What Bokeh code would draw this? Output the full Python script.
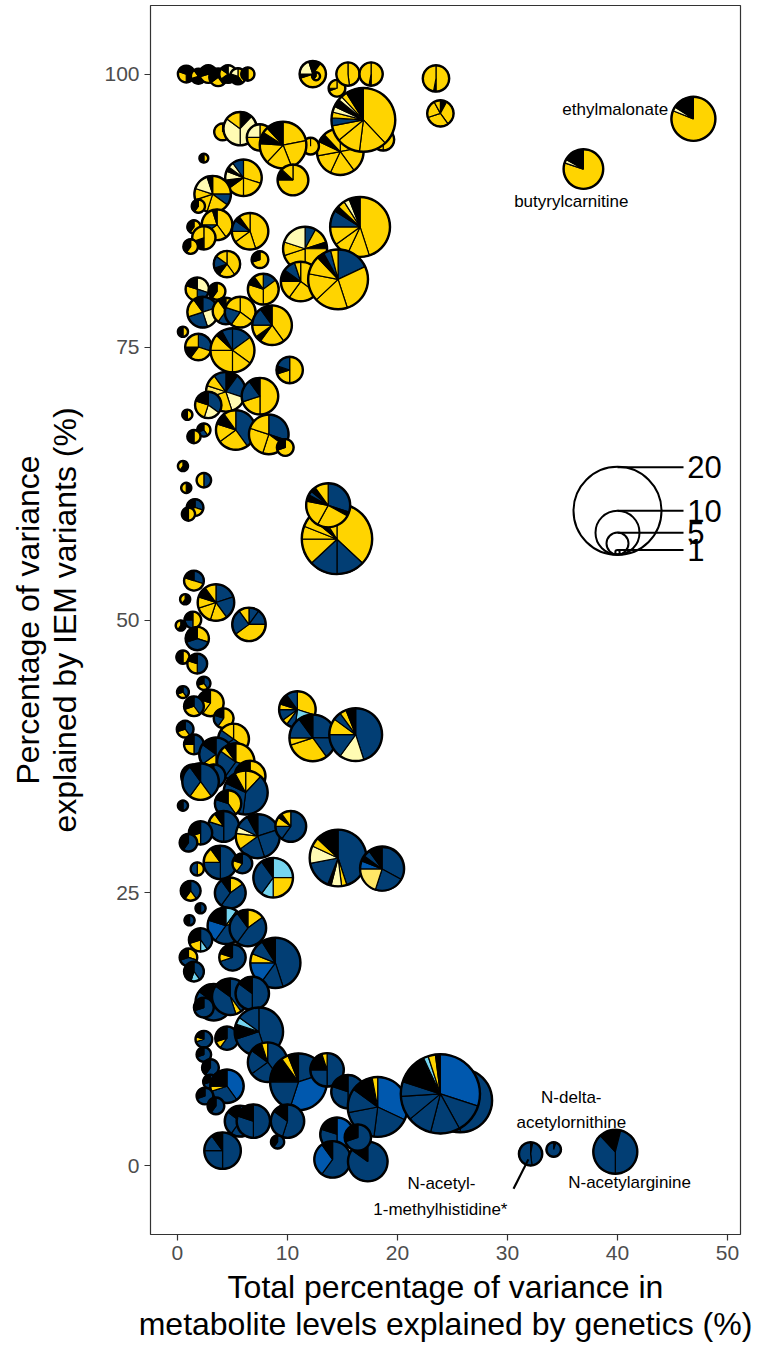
import math
from bokeh.plotting import figure
from bokeh.models import ColumnDataSource, Range1d, FixedTicker
from bokeh.embed import file_html
from bokeh.resources import INLINE
from bokeh.core.properties import value

FONT = "Liberation Sans"
COLORS = {"D": "#023e74", "B": "#0058ae", "L": "#76d5ef", "P": "#fffbb3",
          "M": "#ffe766", "Y": "#ffd400", "K": "#000000"}

# ---- data: pie centre x (total % genetics), y (% IEM), size, wedge composition ----
pie_x = [0.8, 1.9, 2.8, 3.7, 4.6, 5.5, 6.4,
         12.3, 12.6, 14.5, 15.5, 17.6, 23.5, 23.9, 18.7, 14.8, 16.9,
         12.1, 4.1, 5.7, 7.5, 9.6, 10.5, 2.4, 6.0, 3.2, 1.9, 3.6, 1.5, 2.4, 1.2,
         6.6, 7.5, 4.5, 16.6, 11.6, 11.2, 14.6, 1.8, 3.6, 7.8,
         2.3, 4.4, 5.7, 8.6, 0.5, 1.9, 5.0, 10.2, 4.4, 7.5, 2.8, 5.3, 8.3, 9.8,
         0.9, 2.4, 1.5, 0.5, 2.4, 0.8, 1.6, 1.0, 14.5, 13.7,
         1.5, 0.7, 3.5, 6.5, 1.4, 0.3, 1.8, 0.5, 1.8, 2.4, 0.5, 3.0, 1.5, 4.2,
         10.9, 12.3, 16.2, 5.1, 0.7, 1.5, 3.5, 5.3, 1.4, 3.3, 6.6,
         2.1, 6.2, 0.5, 4.6, 4.2, 7.3, 10.3, 2.1, 1.0, 14.6, 18.6, 8.7, 3.9,
         5.9, 1.8, 4.8, 1.2, 2.1, 1.1, 4.4, 6.4, 2.1, 5.0, 1.0, 1.5, 8.9,
         3.3, 4.8, 6.8, 2.4,
         2.4, 4.5, 7.4, 2.4, 3.0, 8.2, 11.0, 13.6, 3.0, 4.5, 2.5, 3.5, 5.7,
         6.9, 10.0, 9.1, 4.1, 15.5, 18.2, 25.7, 23.9, 14.5, 14.1, 17.3, 16.4,
         32.1, 34.2, 39.8, 46.9, 36.9]
pie_y = [100.0, 99.8, 100.0, 99.7, 100.0, 99.8, 100.0,
         100.0, 99.8, 98.7, 100.0, 100.0, 99.6, 96.4, 94.0, 92.9, 95.8,
         93.4, 94.7, 95.0, 94.2, 93.5, 90.3, 92.3, 90.5, 89.0, 87.9, 86.2, 86.0, 85.0, 84.2,
         85.6, 83.0, 82.6, 86.0, 84.0, 81.0, 81.2, 80.3, 80.1, 80.3,
         78.2, 78.3, 78.2, 77.0, 76.4, 75.0, 74.7, 72.9, 70.9, 70.5, 69.7, 67.4, 67.0, 65.8,
         68.8, 67.4, 66.8, 64.1, 62.8, 62.1, 60.3, 59.7, 57.4, 60.5,
         53.6, 51.9, 51.6, 49.6, 50.0, 49.5, 48.3, 46.6, 46.0, 44.2, 43.4, 42.4, 42.1, 41.0,
         41.8, 39.2, 39.5, 39.1, 40.0, 38.6, 37.7, 37.0, 35.7, 35.7, 35.7,
         35.2, 34.2, 33.0, 33.2, 31.1, 30.2, 31.1, 30.5, 29.6, 28.2, 27.2, 26.4, 27.8,
         27.7, 27.2, 25.0, 25.2, 23.6, 22.5, 22.0, 21.8, 20.7, 19.1, 19.1, 17.8, 18.6,
         15.0, 15.5, 15.8, 14.5,
         11.6, 11.7, 12.3, 10.2, 9.0, 9.5, 7.7, 8.8, 7.7, 7.3, 6.4, 5.5, 4.1,
         4.1, 4.1, 2.2, 1.4, 6.8, 5.4, 6.0, 6.6, 2.9, 0.6, 0.4, 2.6,
         1.1, 1.5, 1.3, 95.9, 91.3]
pie_size = [3.8, 3.4, 4.0, 4.0, 4.0, 3.6, 3.0,
            6.0, 1.8, 3.8, 5.3, 5.3, 6.0, 6.0, 5.0, 10.6, 14.5,
            3.8, 3.8, 7.6, 6.0, 10.6, 7.0, 2.0, 8.3, 8.3, 3.0, 7.0, 3.0, 5.3, 3.3,
            8.3, 3.8, 6.0, 13.6, 10.0, 9.0, 13.6, 5.3, 3.8, 7.0,
            7.0, 6.0, 7.0, 9.0, 2.3, 6.0, 10.0, 6.0, 9.0, 8.3, 6.0, 9.0, 9.0, 3.8,
            2.3, 3.0, 3.0, 2.3, 3.3, 2.3, 3.8, 3.0, 16.0, 10.0,
            4.5, 2.3, 8.3, 7.6, 3.8, 2.3, 5.3, 3.0, 4.5, 3.0, 2.7, 6.0, 4.5, 4.5,
            8.3, 10.6, 12.0, 7.0, 3.8, 4.5, 7.6, 8.5, 5.3, 5.3, 7.0,
            8.3, 10.0, 2.3, 6.0, 7.0, 10.0, 7.0, 5.3, 4.0, 12.9, 10.0, 9.0, 7.6,
            4.5, 3.0, 7.0, 4.5, 2.3, 2.3, 8.3, 8.3, 5.3, 6.0, 4.0, 4.5, 11.4,
            8.3, 8.3, 7.6, 4.5,
            3.8, 5.3, 11.0, 3.3, 3.8, 9.0, 12.9, 7.6, 3.3, 7.6, 3.8, 3.8, 7.0,
            7.6, 7.6, 3.0, 8.3, 7.6, 13.6, 14.5, 18.0, 7.6, 8.3, 9.0, 6.0,
            5.3, 3.3, 10.0, 10.0, 9.0]
pie_comp = ["K50 Y30 K20", "Y30 K40 Y20 K10", "K30 Y40 K30", "K40 Y25 K35", "P35 K30 Y20 K15", "Y40 K40 P20", "Y50 K50",
            "K10 Y60 K5 P20 K5", "Y60 K40", "Y70 K5 Y25", "Y48 Y52", "Y50 K3 Y47", "Y50 K3 Y47", "K8 Y32 Y30 Y22 Y8", "Y50 Y50",
            "Y22 Y18 Y17 Y15 Y10 K6 Y12", "Y38 Y14 Y12 Y8 D4 Y3 P3 K4 P2 Y3 K9",
            "Y100", "Y100", "K12 P38 P35 Y15", "Y45 Y30 P25", "Y22 Y22 Y18 Y14 K8 Y4 K12", "Y75 K12 Y13", "Y50 K50",
            "Y30 Y20 Y15 K8 P8 K4 P5 D10", "Y25 D10 Y20 Y15 Y10 P15 K5", "Y60 K40", "Y40 Y25 D10 Y20 K5", "Y60 K40",
            "Y50 K20 Y30", "Y60 K40",
            "Y45 Y20 Y10 D10 K5 Y10", "Y70 K30", "Y40 Y20 K10 D15 Y15", "Y45 Y12 Y8 Y10 D9 K3 Y4 P3 K6",
            "D8 Y12 K5 Y25 Y20 Y10 P20", "Y35 Y25 Y15 K10 D10 Y5", "D18 Y27 Y18 Y15 Y10 K4 D4 Y4",
            "P30 D20 Y30 K20", "Y60 K40", "D15 Y35 Y30 K10 Y10",
            "D20 P25 D25 Y20 K10", "Y40 D20 Y30 K10", "Y35 Y25 D20 Y20", "Y40 Y20 K5 Y10 D15 K10", "Y50 K50",
            "D30 Y30 K15 Y25", "D15 Y20 Y15 Y25 Y12 K5 D8", "Y50 Y20 K10 D20", "K10 D20 P15 Y25 M10 Y10 D10",
            "Y50 Y20 D20 K10", "D35 P20 Y25 K20", "D40 Y25 Y15 K10 Y10", "D30 K5 Y20 Y25 Y20", "Y70 K30",
            "Y50 K50", "Y40 D30 K30", "Y50 K50", "K60 Y40", "D50 Y50", "K50 Y50", "D30 Y40 K30", "Y50 K50",
            "Y37 D13 D13 Y12 Y6 Y5 K3 D2 Y9", "D30 K3 Y25 Y20 K5 D3 K4 Y10",
            "D30 Y50 K20", "K60 Y40", "D20 D20 Y15 Y15 Y10 K10 Y10", "D10 D15 Y40 D25 Y10", "Y50 D25 K25", "K60 Y40",
            "Y30 D40 K30", "Y50 K50", "D50 Y30 K20", "D40 Y30 K30", "D40 Y30 K30", "Y60 Y20 K20", "D40 Y30 K30",
            "Y60 D20 K20",
            "Y30 L22 D8 Y5 D10 Y5 K10 D10", "D25 D15 Y30 Y5 D15 K10", "D45 P15 D15 Y10 D5 Y4 K6", "Y35 D30 D20 Y15",
            "D40 Y30 K30", "D50 Y25 K25", "D50 Y15 D20 K15", "Y30 D30 D25 Y5 K10", "D40 Y30 K30", "D50 Y20 K30",
            "Y40 D40 K20",
            "D40 Y20 D30 K10", "Y12 D40 D30 K10 Y8", "D50 K50", "Y40 D40 K20", "D50 D30 Y10 K10",
            "D20 D25 D20 Y12 P5 D10 K8", "D60 D15 Y10 K5 Y10", "D50 Y20 K30", "D60 K40",
            "D45 Y3 P6 K2 D16 P10 Y5 K13", "D33 D22 M20 B6 K4 D5 K10", "L25 Y25 L10 D30 K10", "D50 D25 Y15 K10",
            "D60 Y20 K20", "Y50 D50", "Y15 D45 D30 K10", "D40 Y20 K40", "D50 K50", "D50 K50",
            "L10 Y10 D40 B20 K20", "Y15 D45 D30 K10", "D40 L10 Y20 K30", "D70 Y10 K20", "Y30 D40 K30",
            "D40 L15 K45", "D45 D15 B15 Y6 D10 K9",
            "D60 D25 K15", "D40 Y5 D40 K15", "D50 D35 K15", "D70 K30",
            "D70 Y10 K20", "D60 Y10 K30", "D45 D25 K10 L5 D15", "D70 K30", "D60 K40", "D40 D25 D20 K10 Y5",
            "D20 B35 D20 K15 Y4 K6", "D50 D25 K20 Y5", "D70 K30", "B40 D30 Y5 K25", "D70 K30", "D60 K40",
            "D60 D25 K15", "D50 D30 K20", "D55 D30 K15", "D60 K40", "D50 D25 D15 K10", "D50 D30 K20",
            "B32 D20 D20 D13 K12 Y3", "D50 D30 D20", "B30 D12 D12 D10 D10 D6 K13 L2 Y3 K2", "B50 D30 K20",
            "D60 B30 K10", "D85 K15", "D70 K30",
            "K3 D45 D52", "K5 D95", "K4 D46 D38 K12", "Y81 P3 K16", "Y80 P3 K17"]

# size legend
legend_vals = [20, 10, 5, 1]
legend_x, legend_base = 40.0, 56.0

# labels
lab_text = ["ethylmalonate", "butyrylcarnitine", "N-delta-", "acetylornithine",
            "N-acetylarginine", "N-acetyl-", "1-methylhistidine*"]
lab_x = [44.6, 35.8, 35.8, 35.8, 41.1, 24.0, 23.9]
lab_y = [96.8, 88.3, 6.3, 4.0, -1.5, -1.6, -4.0]
lab_align = ["right", "center", "center", "center", "center", "center", "center"]

SCALE = 0.2  # radius in data units per size unit

# ---- build wedge table (wedges + outline ring per pie, interleaved) ----
cols = {k: [] for k in ["x", "y", "ri", "ro", "a0", "a1", "fill", "lw", "la"]}
for x, y, s, comp in zip(pie_x, pie_y, pie_size, pie_comp):
    r = s * SCALE
    parts = comp.split()
    tot = sum(float(p[1:]) for p in parts)
    c = 0.0
    for p in parts:
        f = float(p[1:]) / tot
        cols["x"].append(x); cols["y"].append(y)
        cols["ri"].append(0.0); cols["ro"].append(r)
        cols["a0"].append(math.pi / 2 - 2 * math.pi * (c + f))
        cols["a1"].append(math.pi / 2 - 2 * math.pi * c)
        cols["fill"].append(COLORS[p[0]])
        cols["lw"].append(1.2); cols["la"].append(1.0)
        c += f
    cols["x"].append(x); cols["y"].append(y)
    cols["ri"].append(max(r - 0.11, 0.0)); cols["ro"].append(r + 0.11)
    cols["a0"].append(0.0); cols["a1"].append(2 * math.pi - 1e-4)
    cols["fill"].append("#000000"); cols["lw"].append(0.0); cols["la"].append(0.0)
src = ColumnDataSource(cols)

p = figure(width=755, height=1345, output_backend="svg", toolbar_location=None,
           x_range=Range1d(-2.45, 51.18), y_range=Range1d(-6.28, 106.28),
           min_border_left=150, min_border_right=15, min_border_top=5, min_border_bottom=104)
p.grid.visible = False
p.outline_line_color = "#333333"
p.outline_line_width = 1.2

p.annular_wedge(x="x", y="y", inner_radius="ri", outer_radius="ro",
                start_angle="a0", end_angle="a1", fill_color="fill",
                line_color="black", line_width="lw", line_alpha="la", source=src)

# annotation connector line
p.segment(x0=[30.55], y0=[-2.1], x1=[31.9], y1=[0.6], line_color="black", line_width=2.2)

# size legend
lr = [v * SCALE for v in legend_vals]
p.circle(x=[legend_x] * 4, y=[legend_base + r for r in lr], radius=lr,
         fill_color=None, line_color="black", line_width=2)
p.segment(x0=[legend_x] * 4, y0=[legend_base + 2 * r for r in lr],
          x1=[46.0] * 4, y1=[legend_base + 2 * r for r in lr], line_color="black", line_width=2)
p.text(x=[46.35] * 4, y=[legend_base + 2 * r for r in lr], text=[str(v) for v in legend_vals],
       text_font=value(FONT), text_font_size="31px", text_baseline="middle", text_align="left",
       text_color="black")

# point labels
p.text(x=lab_x, y=lab_y, text=lab_text, text_align=lab_align, text_baseline="middle",
       text_font=value(FONT), text_font_size="17px", text_color="black")

for ax in (p.xaxis[0], p.yaxis[0]):
    ax.axis_line_color = None
    ax.major_tick_line_color = "#333333"
    ax.major_tick_line_width = 1.2
    ax.major_tick_out = 6
    ax.major_tick_in = 0
    ax.minor_tick_line_color = None
    ax.major_label_text_font = FONT
    ax.major_label_text_font_size = "21px"
    ax.major_label_text_color = "#4d4d4d"
    ax.major_label_standoff = 5
    ax.axis_label_text_font = FONT
    ax.axis_label_text_font_size = "32px"
    ax.axis_label_text_font_style = "normal"
    ax.axis_label_text_color = "black"
    ax.axis_label_text_line_height = 1.05

p.xaxis.axis_label_standoff = 6
p.yaxis.axis_label_standoff = 18
p.xaxis.ticker = FixedTicker(ticks=[0, 10, 20, 30, 40, 50])
p.yaxis.ticker = FixedTicker(ticks=[0, 25, 50, 75, 100])
p.xaxis.axis_label = "Total percentage of variance in\nmetabolite levels explained by genetics (%)"
p.yaxis.axis_label = "Percentage of variance\nexplained by IEM variants (%)"

open("out.html", "w").write(file_html(p, INLINE))
